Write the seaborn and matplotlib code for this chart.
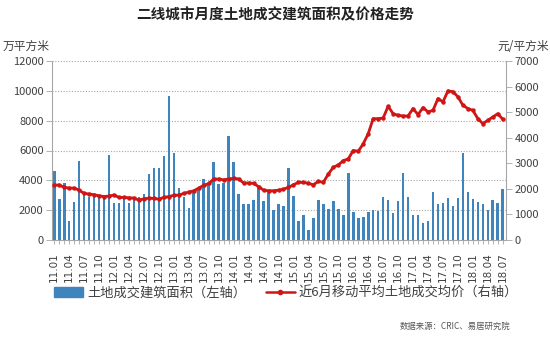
import numpy as np
import pandas as pd
import matplotlib
matplotlib.use("Agg")
import matplotlib.pyplot as plt
import seaborn as sns
from matplotlib.patches import Patch
from matplotlib.lines import Line2D

# ---- data ----
months = [f"{y:02d}.{m:02d}" for y in range(11, 19) for m in range(1, 13)][:91]

area = [4600, 2750, 3850, 1250, 2550, 5300, 3000, 2900, 2950, 3050, 2900, 5700,
        2450, 2500, 2850, 2500, 2850, 2900, 3100, 4400, 4800, 4850, 5600, 9650,
        5800, 3500, 2900, 2150, 3200, 3400, 4100, 3800, 5200, 3750, 3850, 6950,
        5250, 3100, 2400, 2400, 2700, 3550, 2600, 3300, 2000, 2400, 2250, 4850,
        2950, 1300, 1650, 700, 1500, 2700, 2400, 2050, 2600, 2050, 1650, 4500,
        1900, 1500, 1550, 1850, 2000, 1950, 2850, 2700, 1800, 2600, 4500, 2850,
        1700, 1700, 1150, 1250, 3200, 2400, 2450, 2800, 2300, 2800, 5850, 3250,
        2750, 2550, 2400, 2000, 2650, 2450, 3450]

price = [2150, 2150, 2060, 2030, 2030, 1950, 1820, 1800, 1770, 1730, 1700, 1720,
         1760, 1665, 1665, 1650, 1640, 1560, 1610, 1640, 1625, 1600, 1665, 1700,
         1745, 1760, 1820, 1875, 1925, 2030, 2140, 2210, 2385, 2385, 2350, 2385,
         2410, 2385, 2230, 2230, 2215, 2085, 1950, 1925, 1925, 1950, 1990, 2055,
         2160, 2255, 2255, 2215, 2160, 2295, 2255, 2580, 2845, 2935, 3105, 3170,
         3500, 3470, 3760, 4155, 4745, 4745, 4770, 5230, 4940, 4875, 4850, 4850,
         5140, 4900, 5180, 5010, 5070, 5530, 5400, 5830, 5800, 5600, 5270, 5140,
         5070, 4745, 4550, 4680, 4810, 4940, 4720]

left_ticks = [0, 2000, 4000, 6000, 8000, 10000, 12000]
right_ticks = [0, 1000, 2000, 3000, 4000, 5000, 6000, 7000]

title = "二线城市月度土地成交建筑面积及价格走势"
left_unit = "万平方米"
right_unit = "元/平方米"
bar_label = "土地成交建筑面积（左轴）"
line_label = "近6月移动平均土地成交均价（右轴）"
source = "数据来源：CRIC、易居研究院"

# ---- style ----
sns.set_style("white")
plt.rcParams['font.family'] = ['Noto Sans CJK SC', 'DejaVu Sans']

bar_color = "#3f84bd"
line_color = "#d01515"
grid_color = "#a6a6a6"
text_color = "#404040"

df = pd.DataFrame({"month": months, "area": area, "price": price})

fig = plt.figure(figsize=(5.5, 3.46), dpi=100)
ax = fig.add_axes([52/550, 1-240/346, (506-52)/550, (240-61)/346])

sns.barplot(data=df, x="month", y="area", ax=ax, color=bar_color,
            width=0.52, saturation=1, order=months, linewidth=0)
ax.set_ylim(0, 12000)
ax.set_yticks(left_ticks)
ax.set_xlim(-0.45, len(months) - 0.35)
ax.yaxis.grid(True, linestyle=(0, (1, 1.5)), color=grid_color, linewidth=0.8)
ax.set_axisbelow(True)
ax.set_xlabel("")
ax.set_ylabel("")

ax2 = ax.twinx()
sns.lineplot(x=np.arange(len(months)), y=price, ax=ax2, color=line_color,
             linewidth=2.0, marker="o", markersize=3.2, markeredgewidth=0)
ax2.set_ylim(0, 7000)
ax2.set_yticks(right_ticks)
ax2.set_xlim(ax.get_xlim())

# ticks
ax.set_xticks(np.arange(len(months)))
ax.set_xticklabels([m if i % 3 == 0 else "" for i, m in enumerate(months)],
                   rotation=90, fontsize=7.5, color=text_color,
                   family=['DejaVu Sans'])
ax.tick_params(axis="x", length=3, width=0.6, color=grid_color, pad=6,
               bottom=True)
ax.tick_params(axis="y", length=4, width=0.6, color=grid_color, labelsize=8,
               labelcolor=text_color, left=True, pad=2)
ax2.tick_params(axis="y", length=4, width=0.6, color=grid_color, labelsize=8,
                labelcolor=text_color, right=True, pad=2)

for a in (ax, ax2):
    a.spines["top"].set_visible(False)
    for s in ("left", "right", "bottom"):
        a.spines[s].set_color(grid_color)
        a.spines[s].set_linewidth(0.8)
ax.spines["right"].set_visible(False)
ax2.spines["left"].set_visible(False)
ax2.spines["bottom"].set_visible(False)

# texts
fig.text(0.5, 1-14/346, title, ha="center", va="center", fontsize=10.5,
         fontweight="bold", color="#222222")
fig.text(3/550, 1-46/346, left_unit, ha="left", va="center", fontsize=8.5,
         color=text_color)
fig.text(549/550, 1-46/346, right_unit, ha="right", va="center", fontsize=8.5,
         color=text_color)
fig.text(510/550, 1-326/346, source, ha="right", va="center", fontsize=6,
         color="#555555")

handles = [Patch(facecolor=bar_color, edgecolor=bar_color),
           Line2D([0], [0], color=line_color, linewidth=1.8, marker="o",
                  markersize=3)]
fig.legend(handles, [bar_label, line_label], loc="center",
           bbox_to_anchor=(0.52, 1-293/346), ncol=2, frameon=False,
           fontsize=9.5, handlelength=2.2, handletextpad=0.3, columnspacing=1.5,
           labelcolor=text_color)

fig.savefig("out.png", dpi=100)
